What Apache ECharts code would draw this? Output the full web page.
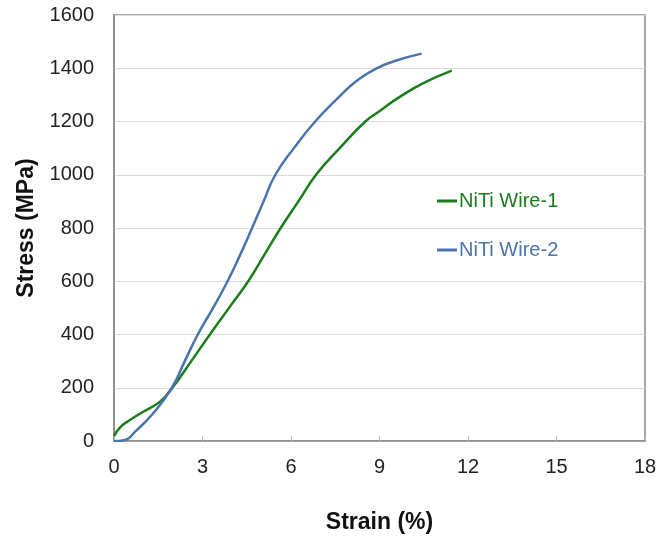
<!DOCTYPE html>
<html>
<head>
<meta charset="utf-8">
<script src="https://cdn.jsdelivr.net/npm/echarts@6/dist/echarts.min.js"></script>
<style>
  html, body { margin: 0; padding: 0; background: #fff; }
  #chart { width: 660px; height: 539px; }
</style>
</head>
<body>
<div id="chart"></div>
<script>
// values
var wire1Strain = [0, 0.2, 0.54, 0.99, 1.56, 1.98, 2.62, 3.25, 3.9, 4.55, 5.1, 5.65, 6.25, 6.85, 7.65, 8.52, 9.02, 9.58, 10.47, 11.45];
var wire1Stress = [18, 50, 79, 110, 148, 200, 300, 400, 500, 600, 700, 800, 900, 1000, 1100, 1200, 1240, 1285, 1343, 1391];
var wire2Strain = [0, 0.3, 0.77, 1.33, 1.96, 2.4, 2.84, 3.36, 3.85, 4.28, 4.68, 5.07, 5.47, 6.1, 6.82, 7.7, 8.2, 8.85, 9.6, 10.43];
var wire2Stress = [0, 2, 41, 104, 200, 300, 400, 500, 600, 700, 800, 900, 1000, 1100, 1200, 1300, 1350, 1397, 1430, 1455];
var seriesNames = ['NiTi Wire-1', 'NiTi Wire-2'];
var seriesColors = ['#1b7d1b', '#4a74ad'];

function draw() {
    var myChart = echarts.init(document.getElementById('chart'));

    function pairs(xs, ys) {
        var out = [];
        for (var i = 0; i < xs.length; i++) out.push([xs[i], ys[i]]);
        return out;
    }

    var option = {
        animation: false,
        textStyle: { fontFamily: 'Liberation Sans, Arial, sans-serif' },
        grid: {
            left: 114, right: 15, top: 15, bottom: 98,
            show: true, borderColor: '#8a8a8a', borderWidth: 1.5
        },
        legend: {
            orient: 'vertical',
            left: 432, top: 186,
            itemWidth: 20, itemHeight: 3,
            itemGap: 29,
            icon: 'rect',
            textStyle: { fontSize: 20, padding: [0, 0, 0, -3] },
            data: [
                { name: seriesNames[0], textStyle: { color: seriesColors[0] } },
                { name: seriesNames[1], textStyle: { color: seriesColors[1] } }
            ]
        },
        xAxis: {
            type: 'value',
            min: 0, max: 18, interval: 3,
            name: 'Strain (%)',
            nameLocation: 'middle',
            nameGap: 70,
            nameTextStyle: { fontSize: 23, fontWeight: 'bold', color: '#111' },
            axisLine: { lineStyle: { color: '#8a8a8a', width: 1.5 } },
            axisTick: { inside: true, length: 5, lineStyle: { color: '#bbb' } },
            axisLabel: { fontSize: 20, color: '#222', margin: 16 },
            splitLine: { show: false }
        },
        yAxis: {
            type: 'value',
            min: 0, max: 1600, interval: 200,
            name: 'Stress (MPa)',
            nameLocation: 'middle',
            nameGap: 76,
            nameTextStyle: { fontSize: 23, fontWeight: 'bold', color: '#111' },
            axisLine: { show: true, lineStyle: { color: '#8a8a8a', width: 1.5 } },
            axisTick: { show: false },
            axisLabel: {
                fontSize: 20, color: '#222', margin: 20,
                formatter: function (v) { return String(v); }
            },
            splitLine: { lineStyle: { color: '#dcdcdc', width: 1.2 } }
        },
        series: [
            {
                name: seriesNames[0],
                type: 'line',
                smooth: 0.5,
                showSymbol: false,
                color: seriesColors[0],
                lineStyle: { width: 2.5 },
                data: pairs(wire1Strain, wire1Stress)
            },
            {
                name: seriesNames[1],
                type: 'line',
                smooth: 0.5,
                showSymbol: false,
                color: seriesColors[1],
                lineStyle: { width: 2.5 },
                data: pairs(wire2Strain, wire2Stress)
            }
        ]
    };

    myChart.setOption(option);
}
draw();
</script>
</body>
</html>
